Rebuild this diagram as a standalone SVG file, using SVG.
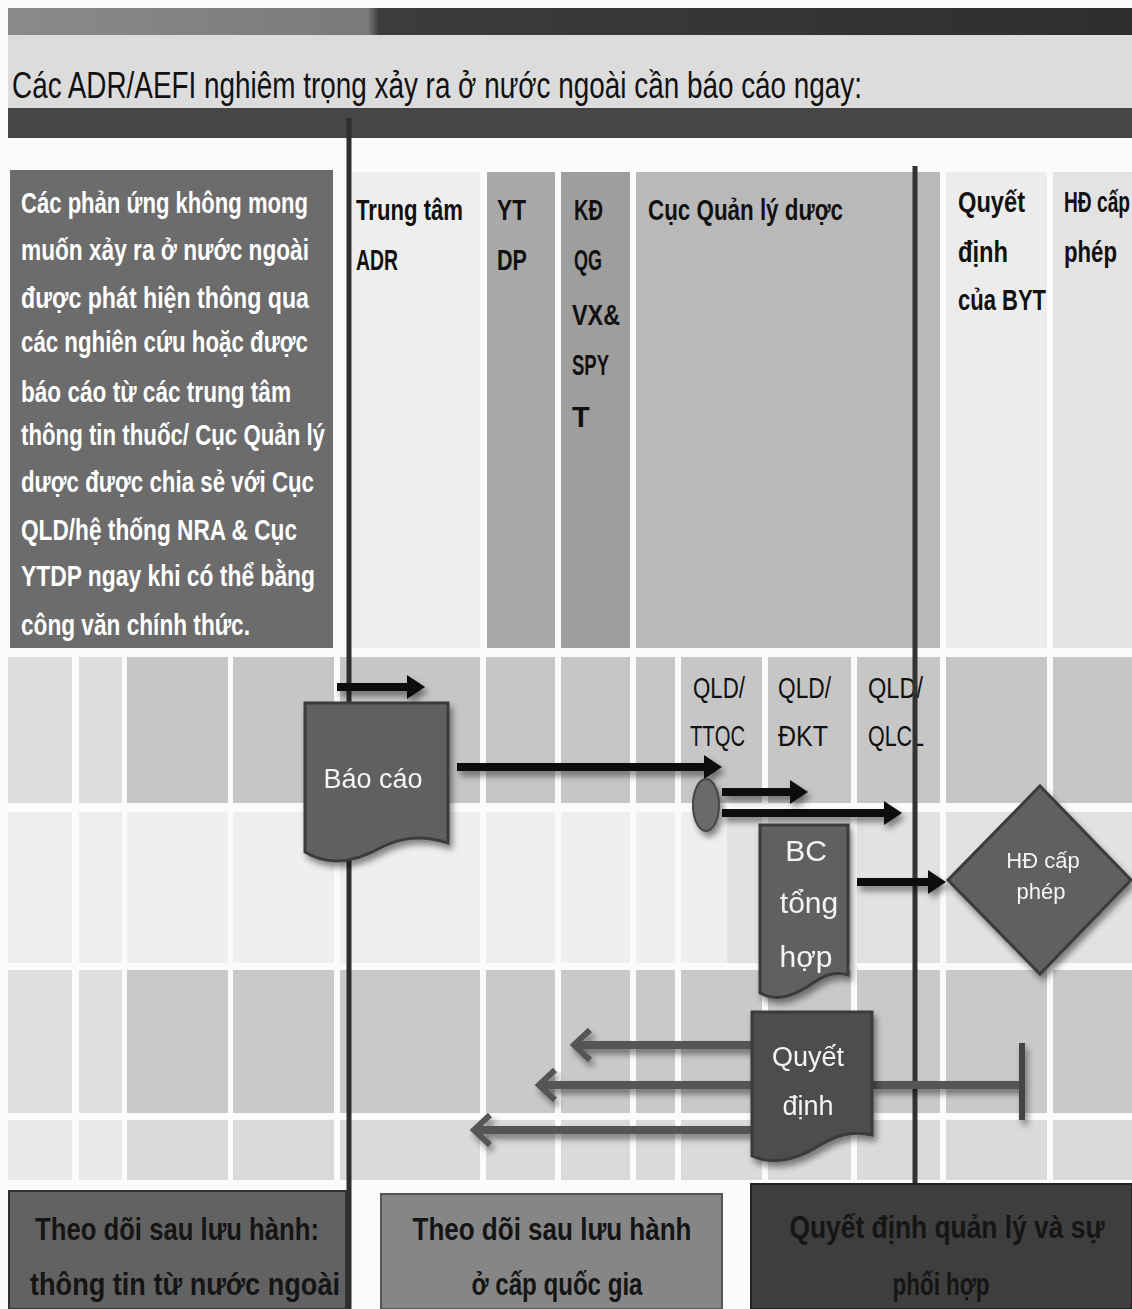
<svg xmlns="http://www.w3.org/2000/svg" width="1132" height="1309" viewBox="0 0 1132 1309">
<style>
.t{font-family:"Liberation Sans",Arial,sans-serif}
.hb{font-family:"Liberation Sans",Arial,sans-serif;font-weight:bold;font-size:29px;fill:#111}
.wb{font-family:"Liberation Sans",Arial,sans-serif;font-weight:bold;font-size:29px;fill:#fff}
.lb{font-family:"Liberation Sans",Arial,sans-serif;font-size:30px;fill:#111}
.nt{font-family:"Liberation Sans",Arial,sans-serif;fill:#f4f4f4;text-anchor:middle}
.bt{font-family:"Liberation Sans",Arial,sans-serif;font-weight:bold;font-size:32px;fill:#151515;text-anchor:middle}
.node{fill:#616161;stroke:#3a3a3a;stroke-width:3}
.blk{stroke:#111;stroke-width:8;fill:none}
.gry{stroke:#555;stroke-width:8;fill:none}
</style>
<defs>
<filter id="sh" x="-20%" y="-30%" width="150%" height="170%">
<feDropShadow dx="3" dy="5" stdDeviation="3" flood-color="#000" flood-opacity="0.45"/>
</filter>
<marker id="ah" markerUnits="userSpaceOnUse" markerWidth="20" markerHeight="26" refX="2" refY="12" orient="auto">
<path d="M0,0 L18,12 L0,24 Z" fill="#111"/>
</marker>
<marker id="ch" markerUnits="userSpaceOnUse" markerWidth="24" markerHeight="40" refX="18" refY="18" orient="auto">
<path d="M2,3 L18,18 L2,33" fill="none" stroke="#555" stroke-width="6"/>
</marker>
<linearGradient id="topbar" x1="0" y1="0" x2="1" y2="0">
<stop offset="0" stop-color="#8a8a8a"/>
<stop offset="0.32" stop-color="#7a7a7a"/>
<stop offset="0.33" stop-color="#3c3c3c"/>
<stop offset="1" stop-color="#2e2e2e"/>
</linearGradient>
</defs>

<g id="background">
<rect x="0" y="0" width="1132" height="1309" fill="#fbfbfb"/>
<rect x="8" y="8" width="1124" height="27" fill="url(#topbar)"/>
<rect x="8" y="35" width="1124" height="73" fill="#dcdcdc"/>
<rect x="8" y="108" width="1124" height="30" fill="#464646"/>
<text class="t" x="12" y="98" font-size="36" fill="#111" textLength="850" lengthAdjust="spacingAndGlyphs">Các ADR/AEFI nghiêm trọng xảy ra ở nước  ngoài cần báo cáo ngay:</text>
</g>

<g id="header-columns">
<rect x="352" y="172" width="128" height="476" fill="#eeeeee"/>
<rect x="487" y="172" width="68" height="476" fill="#a9a9a9"/>
<rect x="561" y="172" width="69" height="476" fill="#9e9e9e"/>
<rect x="636" y="172" width="304" height="476" fill="#b9b9b9"/>
<rect x="946" y="172" width="101" height="476" fill="#ececec"/>
<rect x="1053" y="172" width="79" height="476" fill="#e3e3e3"/>
<text class="hb" x="356" y="220" textLength="107" lengthAdjust="spacingAndGlyphs">Trung tâm</text>
<text class="hb" x="356" y="270" textLength="42" lengthAdjust="spacingAndGlyphs">ADR</text>
<text class="hb" x="497" y="220" textLength="29" lengthAdjust="spacingAndGlyphs">YT</text>
<text class="hb" x="497" y="270" textLength="30" lengthAdjust="spacingAndGlyphs">DP</text>
<text class="hb" x="574" y="220" textLength="29" lengthAdjust="spacingAndGlyphs">KĐ</text>
<text class="hb" x="574" y="270" textLength="28" lengthAdjust="spacingAndGlyphs">QG</text>
<text class="hb" x="572" y="325" textLength="48" lengthAdjust="spacingAndGlyphs">VX&amp;</text>
<text class="hb" x="572" y="375" textLength="37" lengthAdjust="spacingAndGlyphs">SPY</text>
<text class="hb" x="572" y="427">T</text>
<text class="hb" x="648" y="220" textLength="195" lengthAdjust="spacingAndGlyphs">Cục Quản lý dược</text>
<text class="hb" x="958" y="212" textLength="67" lengthAdjust="spacingAndGlyphs">Quyết</text>
<text class="hb" x="958" y="262" textLength="50" lengthAdjust="spacingAndGlyphs">định</text>
<text class="hb" x="958" y="310" textLength="88" lengthAdjust="spacingAndGlyphs">của BYT</text>
<text class="hb" x="1064" y="212" textLength="66" lengthAdjust="spacingAndGlyphs">HĐ cấp</text>
<text class="hb" x="1064" y="262" textLength="53" lengthAdjust="spacingAndGlyphs">phép</text>
</g>

<g id="intro-box">
<rect x="10" y="170" width="323" height="478" fill="#6c6c6c"/>
<text class="wb" x="21" y="213" textLength="287" lengthAdjust="spacingAndGlyphs">Các phản ứng không mong</text>
<text class="wb" x="21" y="260" textLength="288" lengthAdjust="spacingAndGlyphs">muốn xảy ra ở nước ngoài</text>
<text class="wb" x="21" y="308" textLength="288" lengthAdjust="spacingAndGlyphs">được phát hiện thông qua</text>
<text class="wb" x="21" y="352" textLength="287" lengthAdjust="spacingAndGlyphs">các nghiên cứu hoặc được</text>
<text class="wb" x="21" y="402" textLength="270" lengthAdjust="spacingAndGlyphs">báo cáo từ các trung tâm</text>
<text class="wb" x="21" y="445" textLength="304" lengthAdjust="spacingAndGlyphs">thông tin thuốc/ Cục Quản lý</text>
<text class="wb" x="21" y="492" textLength="293" lengthAdjust="spacingAndGlyphs">dược  được chia sẻ với Cục</text>
<text class="wb" x="21" y="540" textLength="276" lengthAdjust="spacingAndGlyphs">QLD/hệ thống NRA &amp; Cục</text>
<text class="wb" x="21" y="586" textLength="294" lengthAdjust="spacingAndGlyphs">YTDP ngay khi có thể  bằng</text>
<text class="wb" x="21" y="635" textLength="229" lengthAdjust="spacingAndGlyphs">công văn chính thức.</text>
</g>

<g id="grid">
<rect x="8" y="657" width="1124" height="146" fill="#c6c6c6"/>
<rect x="8" y="812" width="1124" height="151" fill="#e2e2e2"/>
<rect x="8" y="970" width="1124" height="143" fill="#c9c9c9"/>
<rect x="8" y="1120" width="1124" height="60" fill="#dadada"/>
<rect x="8" y="657" width="114" height="523" fill="#ffffff" opacity="0.4"/>
<rect x="127" y="812" width="600" height="151" fill="#ffffff" opacity="0.45"/>
<g fill="#fbfbfb">
<rect x="72" y="650" width="7" height="535"/>
<rect x="122" y="650" width="5" height="535"/>
<rect x="228" y="650" width="5" height="535"/>
<rect x="334" y="650" width="6" height="535"/>
<rect x="480" y="650" width="6" height="535"/>
<rect x="555" y="650" width="6" height="535"/>
<rect x="630" y="650" width="6" height="535"/>
<rect x="675" y="650" width="6" height="535"/>
<rect x="762" y="650" width="6" height="535"/>
<rect x="851" y="650" width="6" height="535"/>
<rect x="940" y="650" width="6" height="535"/>
<rect x="1047" y="650" width="6" height="535"/>
</g>
<text class="lb" x="693" y="698" textLength="52" lengthAdjust="spacingAndGlyphs">QLD/</text>
<text class="lb" x="690" y="746" textLength="55" lengthAdjust="spacingAndGlyphs">TTQC</text>
<text class="lb" x="778" y="698" textLength="53" lengthAdjust="spacingAndGlyphs">QLD/</text>
<text class="lb" x="778" y="746" textLength="50" lengthAdjust="spacingAndGlyphs">ĐKT</text>
<text class="lb" x="868" y="698" textLength="55" lengthAdjust="spacingAndGlyphs">QLD/</text>
<text class="lb" x="868" y="746" textLength="56" lengthAdjust="spacingAndGlyphs">QLCL</text>
</g>

<g id="dividers">
<line x1="349" y1="118" x2="349" y2="1309" stroke="#2e2e2e" stroke-width="5"/>
<line x1="915" y1="166" x2="915" y2="1185" stroke="#333" stroke-width="5"/>
</g>

<g id="connectors" filter="url(#sh)">
<line class="blk" x1="337" y1="687" x2="409" y2="687" marker-end="url(#ah)"/>
<line class="blk" x1="457" y1="767" x2="706" y2="767" marker-end="url(#ah)"/>
<line class="blk" x1="722" y1="792" x2="792" y2="792" marker-end="url(#ah)"/>
<line class="blk" x1="722" y1="813" x2="886" y2="813" marker-end="url(#ah)"/>
<line class="blk" x1="857" y1="882" x2="930" y2="882" marker-end="url(#ah)"/>
<line class="gry" x1="752" y1="1045" x2="574" y2="1045" marker-end="url(#ch)"/>
<line class="gry" x1="752" y1="1085" x2="539" y2="1085" marker-end="url(#ch)"/>
<line class="gry" x1="752" y1="1130" x2="474" y2="1130" marker-end="url(#ch)"/>
<line class="gry" x1="872" y1="1085" x2="1020" y2="1085" stroke-width="7"/>
<rect x="1019" y="1043" width="6" height="77" fill="#444"/>
</g>

<g id="node-baocao" filter="url(#sh)">
<path class="node" d="M305,703 H448 V843 C420,834 400,838 380,848 C355,862 330,867 305,852 Z"/>
<text class="nt" x="373" y="788" font-size="27">Báo cáo</text>
</g>

<g id="node-ttqc" filter="url(#sh)">
<ellipse cx="706" cy="805" rx="13" ry="26" fill="#6a6a6a" stroke="#444" stroke-width="2"/>
</g>

<g id="node-bc" filter="url(#sh)">
<path class="node" d="M760,825 H848 V975 C835,971 824,975 810,985 C790,998 775,1001 760,993 Z"/>
<text class="nt" x="806" y="861" font-size="30">BC</text>
<text class="nt" x="809" y="913" font-size="30">tổng</text>
<text class="nt" x="806" y="967" font-size="30">hợp</text>
</g>

<g id="node-hd" filter="url(#sh)">
<polygon class="node" points="1040,786 1131,880 1040,974 948,880"/>
<text class="nt" x="1043" y="868" font-size="22">HĐ cấp</text>
<text class="nt" x="1041" y="899" font-size="22">phép</text>
</g>

<g id="node-quyetdinh" filter="url(#sh)">
<path class="node" style="fill:#4d4d4d" d="M752,1012 H872 V1135 C852,1130 836,1135 815,1148 C795,1160 772,1165 752,1156 Z"/>
<text class="nt" x="808" y="1066" font-size="27">Quyết</text>
<text class="nt" x="808" y="1115" font-size="27">định</text>
</g>

<g id="footer-1">
<rect x="9" y="1191" width="337" height="118" fill="#626262" stroke="#333" stroke-width="2"/>
<text class="bt" x="177" y="1240" textLength="284" lengthAdjust="spacingAndGlyphs">Theo dõi sau  lưu  hành:</text>
<text class="bt" x="185" y="1295" textLength="310" lengthAdjust="spacingAndGlyphs">thông tin từ nước ngoài</text>
</g>
<g id="footer-2">
<rect x="381" y="1194" width="341" height="115" fill="#868686" stroke="#555" stroke-width="2"/>
<text class="bt" x="552" y="1240" textLength="279" lengthAdjust="spacingAndGlyphs">Theo dõi sau  lưu  hành</text>
<text class="bt" x="557" y="1295" textLength="171" lengthAdjust="spacingAndGlyphs">ở cấp quốc gia</text>
</g>
<g id="footer-3">
<rect x="751" y="1184" width="381" height="125" fill="#3e3e3e" stroke="#222" stroke-width="2"/>
<text class="bt" x="947" y="1238" textLength="315" lengthAdjust="spacingAndGlyphs">Quyết định quản  lý  và sự</text>
<text class="bt" x="941" y="1295" textLength="97" lengthAdjust="spacingAndGlyphs">phối hợp</text>
</g>
</svg>
